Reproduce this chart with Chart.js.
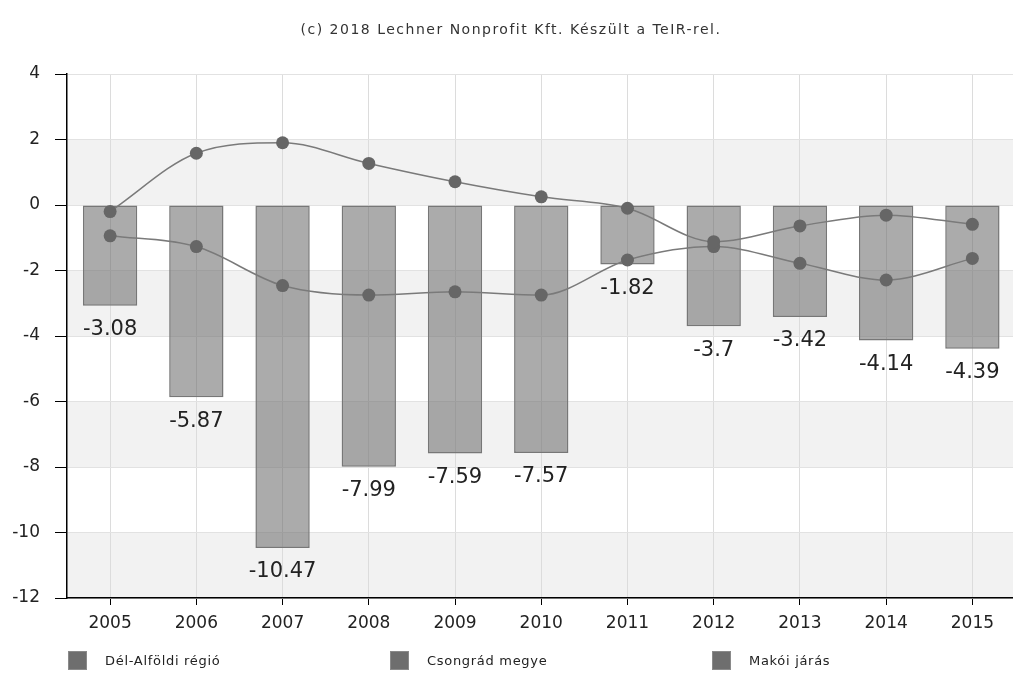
<!DOCTYPE html>
<html>
<head>
<meta charset="utf-8">
<script src="https://cdn.jsdelivr.net/npm/chart.js@4"></script>
<style>
    html, body { margin: 0; padding: 0; background: #fff; overflow: hidden; }
    #wrap { position: relative; width: 1022px; height: 700px; }
    #title {
        position: absolute; left: 0; top: 21px; width: 1022px; text-align: center;
        font: 14px "DejaVu Sans", sans-serif; letter-spacing: 1.5px; color: #333;
    }
    .legend-item {
        position: absolute; top: 651px; font: 13px "DejaVu Sans", sans-serif; color: #222;
        letter-spacing: 0.7px; line-height: 20px;
    }
    .legend-item span {
        display: inline-block; width: 19px; height: 19px; vertical-align: top;
        background: #6e6e6e; margin-right: 18px; box-sizing: border-box; border: 1px solid #8a8a8a;
    }
</style>
</head>
<body>
<div id="wrap">
    <canvas id="chart" width="1022" height="700"></canvas>
    <div id="title">(c) 2018 Lechner Nonprofit Kft. Készült a TeIR-rel.</div>
    <div id="legend"></div>
</div>
<script>
const years = ['2005', '2006', '2007', '2008', '2009', '2010', '2011', '2012', '2013', '2014', '2015'];
const seriesNames = ['Dél-Alföldi régió', 'Csongrád megye', 'Makói járás'];
const delAlfoldi = [-0.2, 1.58, 1.9, 1.27, 0.71, 0.25, -0.1, -1.12, -0.64, -0.31, -0.59];
const csongrad = [-0.94, -1.27, -2.46, -2.75, -2.65, -2.75, -1.68, -1.27, -1.78, -2.29, -1.63];
const makoi = [-3.08, -5.87, -10.47, -7.99, -7.59, -7.57, -1.82, -3.7, -3.42, -4.14, -4.39];
const yMin = -12, yMax = 4, yStep = 2;

const legendLeft = [68, 390, 712];
const legend = document.getElementById('legend');
seriesNames.forEach(function (name, i) {
    const item = document.createElement('div');
    item.className = 'legend-item';
    item.style.left = legendLeft[i] + 'px';
    item.innerHTML = '<span></span>' + name;
    legend.appendChild(item);
});

// alternating grey bands behind the grid
const bandsPlugin = {
    id: 'bands',
    beforeDraw: function (chart) {
        const ctx = chart.ctx, area = chart.chartArea, y = chart.scales.y;
        ctx.save();
        ctx.fillStyle = '#f2f2f2';
        for (let v = 2; v > yMin; v -= 4) {
            const top = y.getPixelForValue(v), bottom = y.getPixelForValue(v - yStep);
            ctx.fillRect(area.left, top, area.right - area.left, bottom - top);
        }
        ctx.restore();
    }
};

const barLabels = {
    id: 'barLabels',
    afterDatasetsDraw: function (chart) {
        const ctx = chart.ctx;
        const idx = chart.data.datasets.findIndex(function (d) { return d.type === 'bar'; });
        const meta = chart.getDatasetMeta(idx);
        ctx.save();
        ctx.font = '21px "DejaVu Sans", sans-serif';
        ctx.fillStyle = '#222';
        ctx.textAlign = 'center';
        ctx.textBaseline = 'middle';
        meta.data.forEach(function (bar, i) {
            ctx.fillText(String(chart.data.datasets[idx].data[i]), bar.x, bar.y + 24);
        });
        ctx.restore();
    }
};

const tickFont = { family: '"DejaVu Sans", sans-serif', size: 17 };

new Chart(document.getElementById('chart'), {
    type: 'bar',
    data: {
        labels: years,
        datasets: [
            {
                type: 'line',
                label: seriesNames[0],
                data: delAlfoldi,
                borderColor: '#7a7a7a',
                borderWidth: 1.5,
                backgroundColor: '#666',
                pointBackgroundColor: '#666',
                pointBorderWidth: 0,
                pointRadius: 6.5,
                cubicInterpolationMode: 'monotone',
                order: 0
            },
            {
                type: 'line',
                label: seriesNames[1],
                data: csongrad,
                borderColor: '#7a7a7a',
                borderWidth: 1.5,
                backgroundColor: '#666',
                pointBackgroundColor: '#666',
                pointBorderWidth: 0,
                pointRadius: 6.5,
                cubicInterpolationMode: 'monotone',
                order: 0
            },
            {
                type: 'bar',
                label: seriesNames[2],
                data: makoi,
                backgroundColor: 'rgba(110,110,110,0.58)',
                borderColor: '#777',
                borderWidth: 1.5,
                borderSkipped: false,
                categoryPercentage: 1,
                barPercentage: 0.63,
                order: 1
            }
        ]
    },
    options: {
        responsive: false,
        animation: false,
        layout: { padding: { top: 74, right: 2, bottom: 52, left: 0 } },
        plugins: {
            legend: { display: false },
            tooltip: { enabled: false }
        },
        scales: {
            x: {
                offset: true,
                grid: { offset: false, color: '#dcdcdc', tickColor: '#000', tickLength: 7 },
                border: { color: '#000', width: 1.5 },
                ticks: { color: '#222', font: tickFont, padding: 8 },
                afterFit: function (scale) { scale.height = 50; }
            },
            y: {
                min: yMin,
                max: yMax,
                ticks: { stepSize: yStep, color: '#222', font: tickFont, padding: 15 },
                grid: { color: '#e2e2e2', tickColor: '#000', tickLength: 12 },
                border: { color: '#000', width: 1.5 },
                afterFit: function (scale) { scale.width = 67; }
            }
        }
    },
    plugins: [bandsPlugin, barLabels]
});
</script>
</body>
</html>
